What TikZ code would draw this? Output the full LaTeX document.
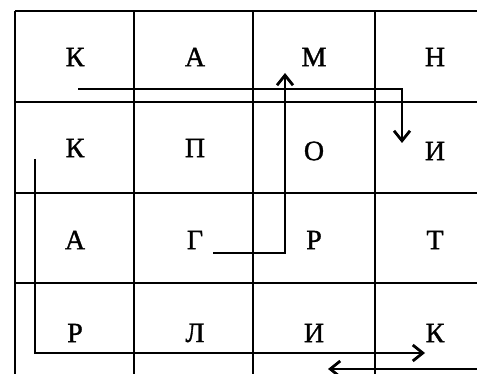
\documentclass[tikz,border=0pt]{standalone}
\usepackage{fontspec}
\setmainfont{Liberation Serif}
\newfontfamily\letterfont[FakeBold=1.2]{Liberation Serif}
\usetikzlibrary{arrows.meta}
\begin{document}
\begin{tikzpicture}[x=1pt,y=-1pt,
  gridline/.style={line width=1.5pt},
  route/.style={line width=2.3pt,-{Straight Barb[length=10pt,width=16pt,line width=2.8pt]}},
  letter/.style={font=\letterfont\fontsize{28}{32}\selectfont, inner sep=0pt}]
\useasboundingbox (0,0) rectangle (477,374);
% grid
\foreach \y in {11,102,193,283} \draw[gridline] (15,\y) -- (477,\y);
\foreach \x in {15,134,253,375} \draw[gridline] (\x,11) -- (\x,374);
% letters
\node[letter] (a11) at (75,57) {К};
\node[letter] (a12) at (195,57) {А};
\node[letter] (a13) at (314,57) {М};
\node[letter] (a14) at (435,57) {Н};
\node[letter] (a21) at (75,148) {К};
\node[letter] (a22) at (195,148) {П};
\node[letter] (a23) at (314,151) {О};
\node[letter] (a24) at (435,151) {И};
\node[letter] (a31) at (75,240) {А};
\node[letter] (a32) at (195,240) {Г};
\node[letter] (a33) at (314,240) {Р};
\node[letter] (a34) at (435,240) {Т};
\node[letter] (a41) at (75,333) {Р};
\node[letter] (a42) at (195,333) {Л};
\node[letter] (a43) at (314,333) {И};
\node[letter] (a44) at (435,333) {К};
% routes
\coordinate (p1s) at (78,89);
\coordinate (p1e) at (402,143);
\draw[route] (p1s) -| (p1e);
\coordinate (p2s) at (213,253);
\coordinate (p2e) at (285,73);
\draw[route] (p2s) -| (p2e);
\coordinate (p3s) at (35,159);
\coordinate (p3e) at (425,353);
\draw[route] (p3s) |- (p3e);
\coordinate (p4s) at (477,369);
\coordinate (p4e) at (328,369);
\draw[route] (p4s) -- (p4e);
\end{tikzpicture}
\end{document}
